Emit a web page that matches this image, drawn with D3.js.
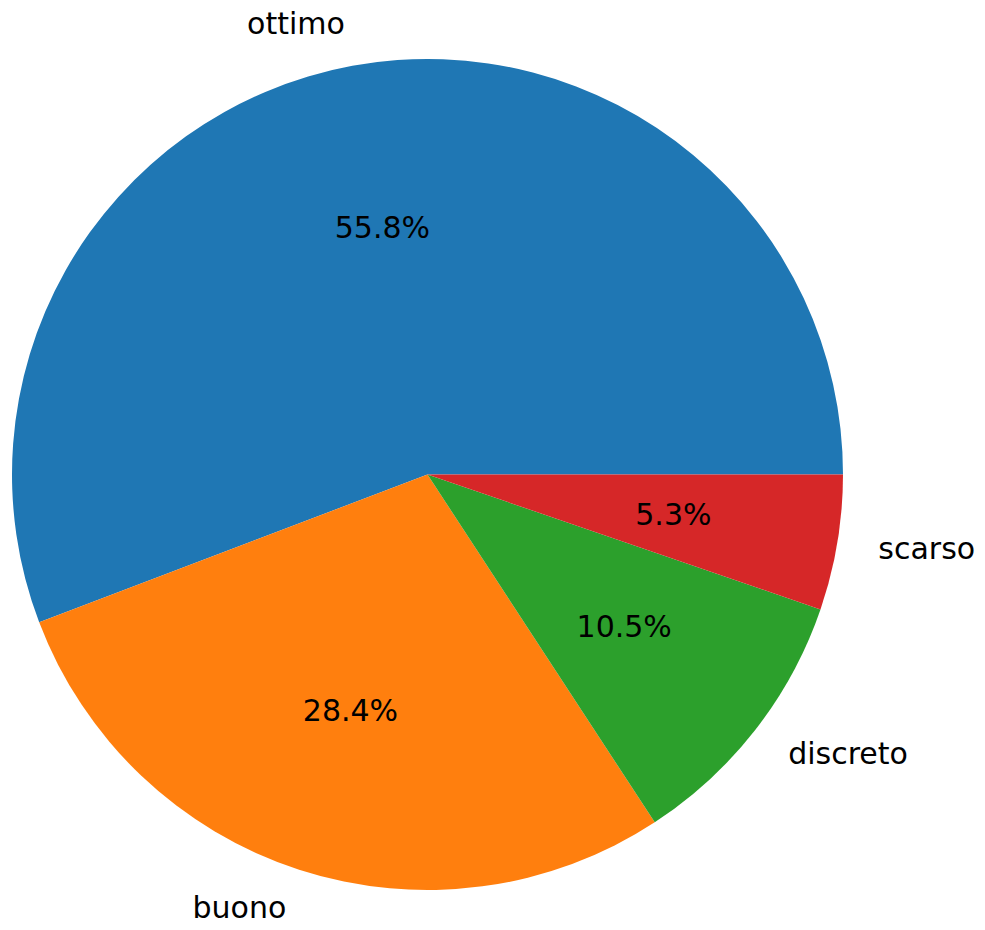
<!DOCTYPE html>
<html>
<head>
<meta charset="utf-8">
<script src="https://cdn.jsdelivr.net/npm/d3@7"></script>
<style>
  body { margin: 0; background: #fff; }
  text { font-family: "DejaVu Sans", sans-serif; font-size: 30px; fill: #000; }
</style>
</head>
<body>
<div id="chart"></div>
<script>
(function(){

  let width = 985
  let height = 930

  // Data
  let categories = ['ottimo', 'buono', 'discreto', 'scarso']
  let counts = [53, 27, 10, 5]
  let colors = ['#1f77b4', '#ff7f0e', '#2ca02c', '#d62728']

  let cx = 427.5
  let cy = 474.5
  let radius = 415.5

  let svg = d3.select('#chart')
    .append('svg')
    .attr('width', width)
    .attr('height', height)

  let g = svg.append('g')
    .attr('transform', 'translate(' + cx + ',' + cy + ')')

  let total = d3.sum(counts)
  let data = categories.map(function(c, i){
    return { label: c, value: counts[i], color: colors[i] }
  })

  // matplotlib style: start at 3 o'clock, go counterclockwise
  // d3 angles: 0 at 12 o'clock, clockwise -> start at PI/2, negative direction
  let pie = d3.pie()
    .value(function(d){ return d.value })
    .sort(null)
    .startAngle(Math.PI / 2)
    .endAngle(Math.PI / 2 - 2 * Math.PI)

  let arc = d3.arc().innerRadius(0).outerRadius(radius)

  let arcs = pie(data)

  g.selectAll('path')
    .data(arcs)
    .enter().append('path')
    .attr('d', arc)
    .attr('fill', function(d){ return d.data.color })

  function mid(d) {
    return (d.startAngle + d.endAngle) / 2
  }

  // Labels at 1.1 r
  g.selectAll('.label')
    .data(arcs)
    .enter().append('text')
    .attr('class', 'label')
    .attr('x', function(d){ return Math.sin(mid(d)) * radius * 1.1 })
    .attr('y', function(d){ return -Math.cos(mid(d)) * radius * 1.1 })
    .attr('dy', '0.3em')
    .attr('text-anchor', function(d){ return Math.sin(mid(d)) > 0 ? 'start' : 'end' })
    .text(function(d){ return d.data.label })

  // Percentages at 0.6 r
  g.selectAll('.pct')
    .data(arcs)
    .enter().append('text')
    .attr('class', 'pct')
    .attr('x', function(d){ return Math.sin(mid(d)) * radius * 0.6 })
    .attr('y', function(d){ return -Math.cos(mid(d)) * radius * 0.6 })
    .attr('dy', '0.3em')
    .attr('text-anchor', 'middle')
    .text(function(d){ return (d.value / total * 100).toFixed(1) + '%' })

})()
</script>
</body>
</html>
